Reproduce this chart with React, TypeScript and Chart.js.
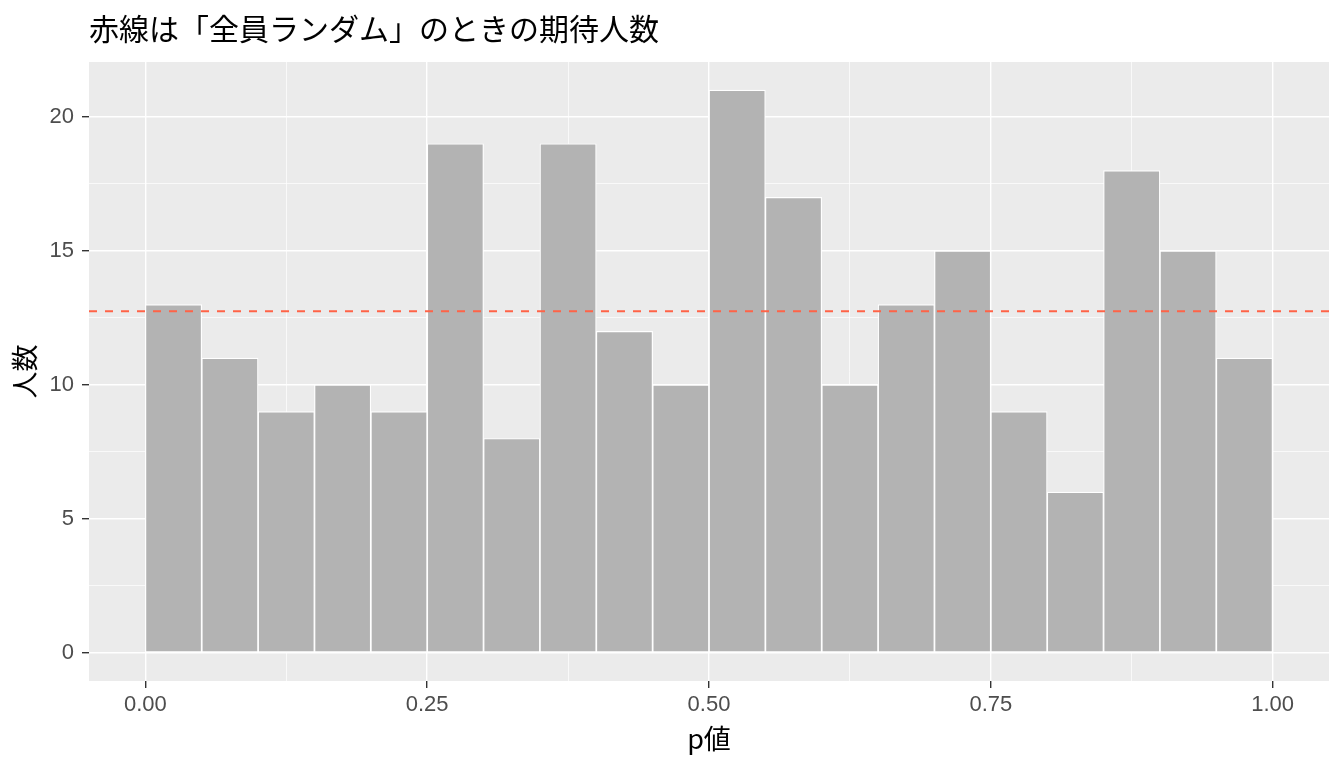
import { useEffect, useRef } from "react";
import { Chart, registerables } from "chart.js";

Chart.register(...registerables);

const titleText = "赤線は「全員ランダム」のときの期待人数";
const xTitle = "p値";
const yTitle = "人数";

const binCenters = [
  0.025, 0.075, 0.125, 0.175, 0.225, 0.275, 0.325, 0.375, 0.425, 0.475,
  0.525, 0.575, 0.625, 0.675, 0.725, 0.775, 0.825, 0.875, 0.925, 0.975,
];
const counts = [13, 11, 9, 10, 9, 19, 8, 19, 12, 10, 21, 17, 10, 13, 15, 9, 6, 18, 15, 11];

const xTickValues = [0, 0.125, 0.25, 0.375, 0.5, 0.625, 0.75, 0.875, 1];
const xMajorTicks = [0, 0.25, 0.5, 0.75, 1];
const yTickValues = [0, 2.5, 5, 7.5, 10, 12.5, 15, 17.5, 20];
const yMajorTicks = [0, 5, 10, 15, 20];

const xRange = [-0.05, 1.05];
const yRange = [-1.05, 22.05];

const expectedCount = counts.reduce((a, b) => a + b, 0) / counts.length;

const isMajor = (list: number[], v: number | undefined) =>
  v !== undefined && list.some((m) => Math.abs(m - v) < 1e-9);

const panelBg = {
  id: "panelBg",
  beforeDraw(chart: any) {
    const { ctx, chartArea } = chart;
    ctx.save();
    ctx.fillStyle = "#EBEBEB";
    ctx.fillRect(chartArea.left, chartArea.top, chartArea.width, chartArea.height);
    ctx.restore();
  },
};

export default function App() {
  const ref = useRef<HTMLCanvasElement | null>(null);

  useEffect(() => {
    document.body.style.margin = "0";
    document.body.style.overflow = "hidden";
    if (!ref.current) return;
    const chart = new Chart(ref.current, {
      type: "bar",
      data: {
        datasets: [
          {
            type: "line",
            data: [
              { x: xRange[0], y: expectedCount },
              { x: xRange[1], y: expectedCount },
            ],
            borderColor: "#FF6347",
            borderWidth: 2,
            borderDash: [8, 8],
            pointRadius: 0,
            order: 0,
          } as any,
          {
            type: "bar",
            data: binCenters.map((x, i) => ({ x, y: counts[i] })),
            backgroundColor: "#B3B3B3",
            borderColor: "#FFFFFF",
            borderWidth: 1.2,
            borderSkipped: false,
            barPercentage: 1,
            categoryPercentage: 1,
            order: 1,
          } as any,
        ],
      },
      options: {
        animation: false,
        responsive: false,
        devicePixelRatio: 1,
        layout: { padding: { top: 0, right: 15, bottom: 0, left: 0 } },
        plugins: {
          legend: { display: false },
          tooltip: { enabled: false },
          title: {
            display: true,
            text: titleText,
            align: "start",
            fullSize: false,
            color: "#000000",
            font: { family: "'Noto Sans CJK JP'", size: 30, weight: "normal", lineHeight: 1.2 },
            padding: { top: 11, bottom: 15 },
          },
        },
        scales: {
          x: {
            type: "linear",
            offset: false,
            min: xRange[0],
            max: xRange[1],
            afterBuildTicks: (scale: any) => {
              scale.ticks = xTickValues.map((value) => ({ value }));
            },
            afterFit: (scale: any) => {
              scale.height = 87;
            },
            border: { display: false },
            grid: {
              offset: false,
              color: "#FFFFFF",
              lineWidth: (ctx: any) => (isMajor(xMajorTicks, ctx.tick?.value) ? 1.4 : 0.7),
              tickColor: (ctx: any) =>
                isMajor(xMajorTicks, ctx.tick?.value) ? "#333333" : "rgba(0,0,0,0)",
              tickWidth: 1.4,
              tickLength: 7,
            },
            ticks: {
              autoSkip: false,
              maxRotation: 0,
              padding: 4,
              color: "#4D4D4D",
              font: { family: "'Liberation Sans', Arial", size: 22 },
              callback: (value: any) =>
                isMajor(xMajorTicks, Number(value)) ? Number(value).toFixed(2) : "",
            },
            title: {
              display: true,
              text: xTitle,
              color: "#000000",
              font: { family: "'Noto Sans CJK JP'", size: 27, lineHeight: 1.2 },
              padding: { top: 0, bottom: 13 },
            },
          },
          y: {
            type: "linear",
            min: yRange[0],
            max: yRange[1],
            afterBuildTicks: (scale: any) => {
              scale.ticks = yTickValues.map((value) => ({ value }));
            },
            afterFit: (scale: any) => {
              scale.width = 89;
            },
            border: { display: false },
            grid: {
              color: "#FFFFFF",
              lineWidth: (ctx: any) => (isMajor(yMajorTicks, ctx.tick?.value) ? 1.4 : 0.7),
              tickColor: (ctx: any) =>
                isMajor(yMajorTicks, ctx.tick?.value) ? "#333333" : "rgba(0,0,0,0)",
              tickWidth: 1.4,
              tickLength: 7,
            },
            ticks: {
              autoSkip: false,
              padding: 8,
              color: "#4D4D4D",
              font: { family: "'Liberation Sans', Arial", size: 22 },
              callback: (value: any) =>
                isMajor(yMajorTicks, Number(value)) ? String(Number(value)) : "",
            },
            title: {
              display: true,
              text: yTitle,
              color: "#000000",
              font: { family: "'Noto Sans CJK JP'", size: 27, lineHeight: 1.2 },
              padding: { top: 9, bottom: 0 },
            },
          },
        },
      },
      plugins: [panelBg],
    } as any);
    return () => chart.destroy();
  }, []);

  return (
    <div style={{ width: 1344, height: 768 }}>
      <canvas ref={ref} width={1344} height={768} style={{ display: "block" }} />
    </div>
  );
}
